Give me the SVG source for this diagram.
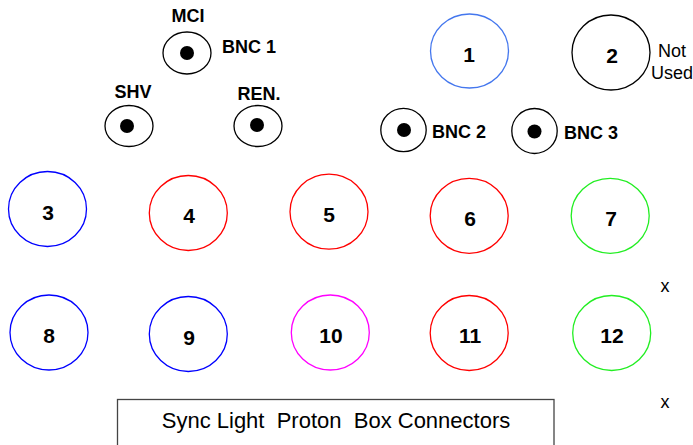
<svg xmlns="http://www.w3.org/2000/svg" width="693" height="445" viewBox="0 0 693 445">
<style>
.c{fill:none;stroke-width:1.3}
.bnc{fill:#fff;stroke:#000;stroke-width:1.3}
.dot{fill:#000}
.num{font-family:"Liberation Sans",Arial,sans-serif;font-weight:bold;font-size:21px;text-anchor:middle;fill:#000}
.lbl{font-family:"Liberation Sans",Arial,sans-serif;font-weight:bold;font-size:18px;fill:#000}
.n{font-family:"Liberation Sans",Arial,sans-serif;font-size:18px;fill:#000}
</style>
<rect width="693" height="445" fill="#fff"/>
<g id="connectors"></g>
<g id="bnc1"><ellipse class="bnc" cx="187" cy="53" rx="24" ry="21"/><circle class="dot" cx="187" cy="53" r="7"/><text class="lbl" x="188" y="22" text-anchor="middle">MCI</text><text class="lbl" x="222" y="53">BNC 1</text></g>
<g id="shv"><ellipse class="bnc" cx="129" cy="126" rx="24" ry="20.5"/><circle class="dot" cx="127" cy="126" r="7"/><text class="lbl" x="133" y="98" text-anchor="middle">SHV</text></g>
<g id="ren"><ellipse class="bnc" cx="258" cy="126" rx="24" ry="20.5"/><circle class="dot" cx="257" cy="125" r="7"/><text class="lbl" x="259" y="100" text-anchor="middle">REN.</text></g>
<g id="bnc2"><ellipse class="bnc" cx="403.5" cy="130" rx="22.7" ry="21.7"/><circle class="dot" cx="404" cy="130" r="7"/><text class="lbl" x="432" y="138">BNC 2</text></g>
<g id="bnc3"><ellipse class="bnc" cx="534.5" cy="131" rx="22.7" ry="22.5"/><circle class="dot" cx="534.5" cy="131.5" r="7"/><text class="lbl" x="564" y="139">BNC 3</text></g>
<g id="n1"><ellipse class="c" stroke="#4477ee" cx="469.5" cy="51" rx="39" ry="37"/><text class="num" x="469" y="62">1</text></g>
<g id="n2"><ellipse class="c" stroke="#000" cx="611" cy="52.5" rx="39" ry="37.5"/><text class="num" x="612" y="63">2</text><text class="n" x="672" y="57" text-anchor="middle">Not</text><text class="n" x="672" y="79" text-anchor="middle">Used</text></g>
<g id="n3"><ellipse class="c" stroke="#0000ff" cx="47.5" cy="209" rx="39" ry="37.5"/><text class="num" x="48" y="220">3</text></g>
<g id="n4"><ellipse class="c" stroke="#ff0000" cx="188.3" cy="213" rx="39" ry="37.5"/><text class="num" x="189" y="223">4</text></g>
<g id="n5"><ellipse class="c" stroke="#ff0000" cx="329" cy="211.7" rx="39" ry="37.5"/><text class="num" x="329" y="222">5</text></g>
<g id="n6"><ellipse class="c" stroke="#ff0000" cx="469.2" cy="215.8" rx="39" ry="37.5"/><text class="num" x="470" y="226">6</text></g>
<g id="n7"><ellipse class="c" stroke="#22ee22" cx="610.2" cy="215.8" rx="39" ry="37.5"/><text class="num" x="611" y="226">7</text></g>
<g id="n8"><ellipse class="c" stroke="#0000ff" cx="49" cy="332.5" rx="39" ry="37.5"/><text class="num" x="49" y="343">8</text></g>
<g id="n9"><ellipse class="c" stroke="#0000ff" cx="188.3" cy="334" rx="39" ry="37.5"/><text class="num" x="189" y="345">9</text></g>
<g id="n10"><ellipse class="c" stroke="#ff00ff" cx="330.3" cy="332.5" rx="39" ry="37.5"/><text class="num" x="331" y="343">10</text></g>
<g id="n11"><ellipse class="c" stroke="#ff0000" cx="469.2" cy="333" rx="39" ry="37.5"/><text class="num" x="470" y="343">11</text></g>
<g id="n12"><ellipse class="c" stroke="#22ee22" cx="611.7" cy="333" rx="39" ry="37.5"/><text class="num" x="612" y="343">12</text></g>
<g id="marks"><text class="n" x="665" y="292" text-anchor="middle">x</text><text class="n" x="665" y="408" text-anchor="middle">x</text></g>
<g id="title"><rect x="117.5" y="399.5" width="436.5" height="60" fill="none" stroke="#444" stroke-width="1.3"/><text x="336" y="428" text-anchor="middle" xml:space="preserve" style="font-family:'Liberation Sans',Arial,sans-serif;font-size:22px;fill:#000">Sync Light  Proton  Box Connectors</text></g>
</svg>
